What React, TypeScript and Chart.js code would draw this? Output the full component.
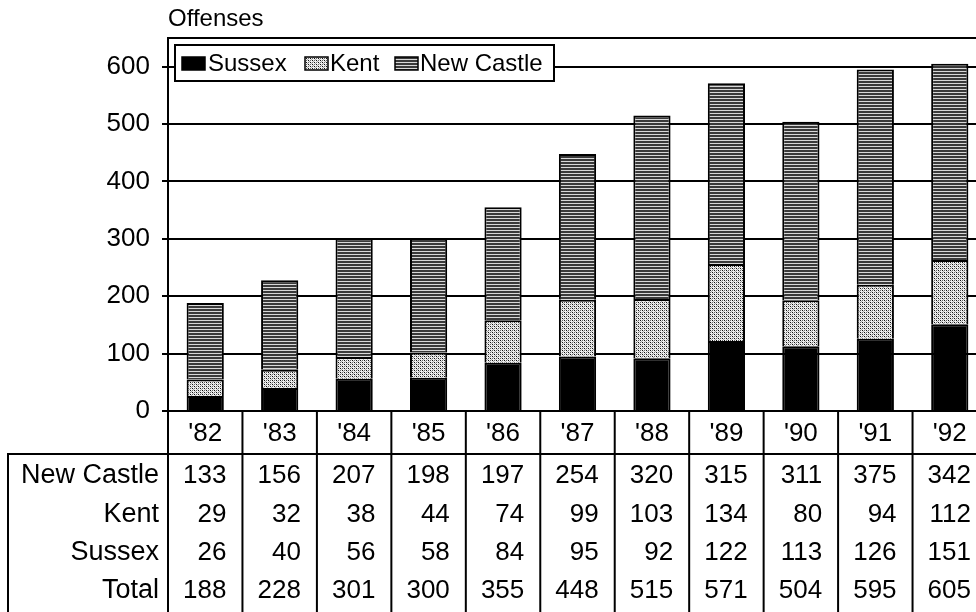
import React, { useEffect, useRef } from "react";
import { Chart, registerables } from "chart.js";

Chart.register(...registerables);

const years = ["'82", "'83", "'84", "'85", "'86", "'87", "'88", "'89", "'90", "'91", "'92"];
const newCastle = [133, 156, 207, 198, 197, 254, 320, 315, 311, 375, 342];
const kent = [29, 32, 38, 44, 74, 99, 103, 134, 80, 94, 112];
const sussex = [26, 40, 56, 58, 84, 95, 92, 122, 113, 126, 151];
const total = [188, 228, 301, 300, 355, 448, 515, 571, 504, 595, 605];
const yTicks = [0, 100, 200, 300, 400, 500, 600];
const rowLabels = ["New Castle", "Kent", "Sussex", "Total"];
const legendLabels = ["Sussex", "Kent", "New Castle"];
const axisTitle = "Offenses";

const FONT = "Liberation Sans, Arial, sans-serif";

function makeDots(): CanvasPattern | string {
  const c = document.createElement("canvas");
  c.width = 4;
  c.height = 4;
  const g = c.getContext("2d");
  if (!g) return "#bbb";
  g.fillStyle = "#eeeeee";
  g.fillRect(0, 0, 4, 4);
  g.fillStyle = "#111";
  g.fillRect(0, 0, 1, 1);
  g.fillRect(2, 2, 1, 1);
  g.fillStyle = "#666";
  g.fillRect(2, 0, 1, 1);
  g.fillRect(0, 2, 1, 1);
  g.fillStyle = "#aaa";
  g.fillRect(1, 1, 1, 1);
  g.fillRect(3, 3, 1, 1);
  return g.createPattern(c, "repeat") || "#bbb";
}

function makeLines(): CanvasPattern | string {
  const c = document.createElement("canvas");
  c.width = 4;
  c.height = 3;
  const g = c.getContext("2d");
  if (!g) return "#555";
  g.fillStyle = "#3a3a3a";
  g.fillRect(0, 0, 4, 2);
  g.fillStyle = "#d8d8d8";
  g.fillRect(0, 2, 4, 1);
  return g.createPattern(c, "repeat") || "#555";
}

export default function App() {
  const ref = useRef<HTMLCanvasElement | null>(null);

  useEffect(() => {
    if (!ref.current) return;
    const dots = makeDots();
    const lines = makeLines();
    const fills = ["#000", dots, lines];

    const overlay = {
      id: "overlay",
      afterDraw(chart: any) {
        const ctx = chart.ctx;
        const x = chart.scales.x;
        const area = chart.chartArea;
        ctx.save();
        ctx.fillStyle = "#000";
        ctx.strokeStyle = "#000";
        // axis title
        ctx.font = `24px ${FONT}`;
        ctx.textAlign = "left";
        ctx.textBaseline = "middle";
        ctx.fillText(axisTitle, area.left, 19);

        // legend
        const lx = 175, ly = 45, lw = 379, lh = 36;
        ctx.fillStyle = "#fff";
        ctx.fillRect(lx, ly, lw, lh);
        ctx.lineWidth = 2;
        ctx.strokeRect(lx, ly, lw, lh);
        const items = [
          { sw: 182, tx: 208 },
          { sw: 305, tx: 330 },
          { sw: 395, tx: 420 },
        ];
        ctx.font = `24px ${FONT}`;
        ctx.textBaseline = "middle";
        items.forEach((it, i) => {
          ctx.fillStyle = fills[i] as any;
          ctx.fillRect(it.sw, 57, 23, 13);
          ctx.lineWidth = 1.5;
          ctx.strokeRect(it.sw, 57, 23, 13);
          ctx.fillStyle = "#000";
          ctx.fillText(legendLabels[i], it.tx, 64);
        });

        // table
        const top = area.bottom;
        const headBottom = 454;
        const bottom = 640;
        const n = years.length;
        const bounds: number[] = [area.left];
        for (let i = 0; i < n - 1; i++) {
          bounds.push((x.getPixelForValue(i) + x.getPixelForValue(i + 1)) / 2);
        }
        bounds.push(area.right);
        ctx.lineWidth = 2;
        ctx.beginPath();
        bounds.forEach((b) => {
          ctx.moveTo(b, top);
          ctx.lineTo(b, bottom);
        });
        ctx.moveTo(7, headBottom);
        ctx.lineTo(area.right, headBottom);
        ctx.moveTo(8, headBottom);
        ctx.lineTo(8, bottom);
        ctx.stroke();

        ctx.font = `26px ${FONT}`;
        ctx.textAlign = "center";
        ctx.textBaseline = "middle";
        years.forEach((yr, i) => {
          ctx.fillText(yr, x.getPixelForValue(i), 434);
        });
        const rows = [newCastle, kent, sussex, total];
        const rowY = [476, 515, 553, 591];
        rows.forEach((arr, r) => {
          ctx.textAlign = "right";
          ctx.font = `27px ${FONT}`;
          ctx.fillText(rowLabels[r], area.left - 9, rowY[r]);
          ctx.font = `26px ${FONT}`;
          arr.forEach((v, i) => {
            ctx.fillText(String(v), bounds[i + 1] - 16, rowY[r]);
          });
        });
        ctx.restore();
      },
    };

    const chart = new Chart(ref.current, {
      type: "bar",
      data: {
        labels: years,
        datasets: [
          { label: legendLabels[0], data: sussex, backgroundColor: fills[0] as any, borderColor: "#000", borderWidth: 2 },
          { label: legendLabels[1], data: kent, backgroundColor: fills[1] as any, borderColor: "#000", borderWidth: 2 },
          { label: legendLabels[2], data: newCastle, backgroundColor: fills[2] as any, borderColor: "#000", borderWidth: 2 },
        ],
      },
      options: {
        responsive: false,
        animation: false,
        devicePixelRatio: 1,
        layout: { padding: { top: 38, bottom: 201, left: 0, right: 13 } },
        plugins: { legend: { display: false }, tooltip: { enabled: false }, title: { display: false } },
        datasets: { bar: { categoryPercentage: 1, barPercentage: 0.5 } },
        scales: {
          x: { stacked: true, display: false },
          y: {
            stacked: true,
            min: 0,
            max: 650,
            afterFit(scale: any) {
              scale.width = 168;
            },
            afterBuildTicks(scale: any) {
              scale.ticks = [...yTicks.map((v) => ({ value: v })), { value: 650 }];
            },
            ticks: {
              font: { family: FONT, size: 26 },
              color: "#000",
              padding: 12,
              callback: (v: any) => (yTicks.includes(Number(v)) ? String(v) : ""),
            },
            grid: {
              color: "#000",
              lineWidth: 2,
              tickLength: 6,
              tickColor: (c: any) => (c.tick && c.tick.value === 650 ? "rgba(0,0,0,0)" : "#000"),
            },
            border: { display: true, color: "#000", width: 2 },
          },
        },
      },
      plugins: [overlay],
    });
    return () => chart.destroy();
  }, []);

  return (
    <div style={{ position: "fixed", left: 0, top: 0, width: 976, height: 612, overflow: "hidden", background: "#fff" }}>
      <canvas ref={ref} width={1000} height={612} style={{ width: 1000, height: 612, display: "block" }} />
    </div>
  );
}
